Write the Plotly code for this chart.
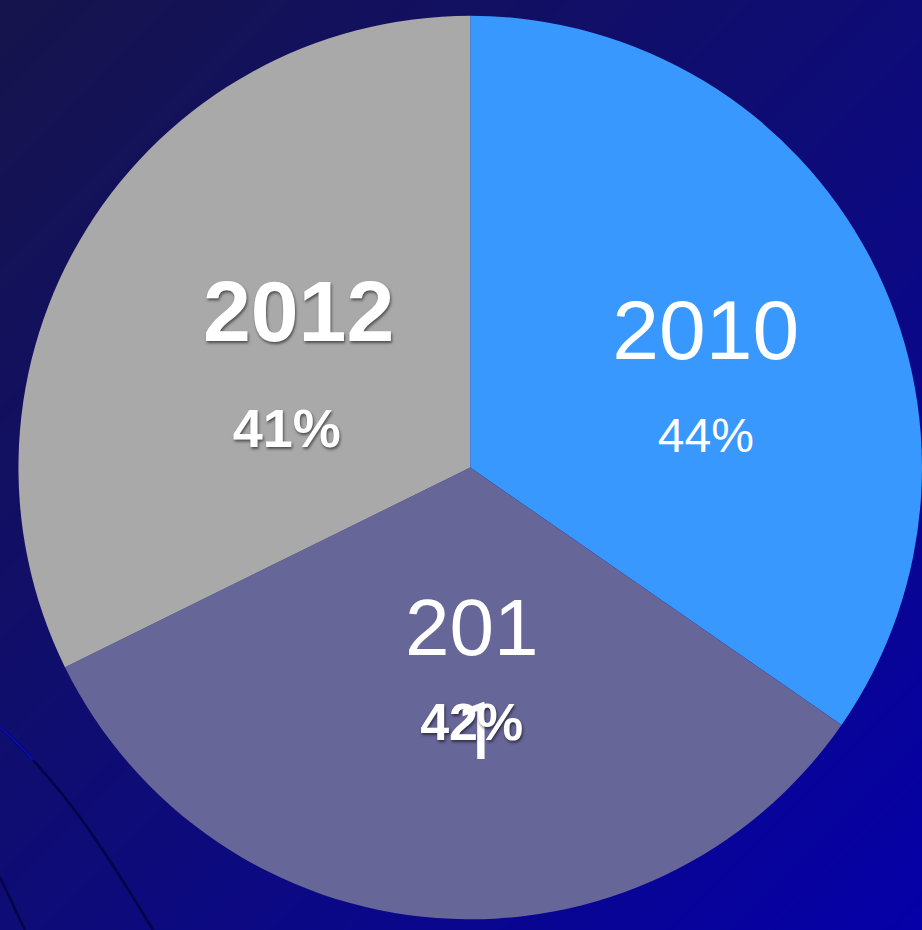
import numpy as np
import plotly.graph_objects as go

# ---- data ----
years = ["2010", "2011", "2012"]
shown_year = ["2010", "201", "2012"]
values = [44, 42, 41]
slice_colors = ["#3898FE", "#666699", "#A9A9A9"]

NB = "\u00a0"
SH = "text-shadow:1px 2px 3px rgba(0,0,0,0.55)"


def pad(size, n, shift=0):
    return f"<span style='font-size:{size}px;baseline-shift:{shift}px'>{NB * n}</span>"


# per-slice text templates (year on line 1, value on line 2)
tpl_2010 = (pad(84, 1, 32) + pad(84, 1) + "<span style='font-size:84px'>%{text}</span>"
            + "<br>" + pad(84, 2, 8) + "<span style='font-size:48px'>%{value}%</span>")
tpl_2011 = (pad(70, 2) + "<span style='font-size:80px'>%{text}</span>"
            + "<br>" + pad(70, 2, -81)
            + f"<span style='font-size:52px;font-weight:bold;{SH}'>4</span>"
            + f"<span style='font-size:52px;font-weight:bold;letter-spacing:-22px;{SH}'>2</span>"
            + "<span style='font-family:Roboto;font-weight:normal;font-size:80px;letter-spacing:-24px;baseline-shift:-19px'>1</span>"
            + f"<span style='font-size:52px;font-weight:bold;{SH}'>%</span>")
tpl_2012 = (pad(86, 1, 44) + pad(86, 2)
            + f"<span style='font-size:86px;font-weight:bold;{SH}'>%{{text}}</span>"
            + "<br>" + pad(86, 2, 8)
            + f"<span style='font-size:54px;font-weight:bold;{SH}'>%{{value}}%</span>")
templates = [tpl_2010, tpl_2011, tpl_2012]
base_sizes = [72, 65, 82]

# ---- background gradient ----
n = 60
gx = np.linspace(0, 1, n)
gy = np.linspace(0, 1, n)
GX, GY = np.meshgrid(gx, gy)
gz = GX * 0.5 + (1 - GY) * 0.5

fig = go.Figure()
fig.add_trace(go.Heatmap(
    x=gx, y=gy, z=gz, zsmooth="best", showscale=False, hoverinfo="skip",
    colorscale=[[0, "rgb(22,20,75)"], [0.5, "rgb(14,12,118)"], [1, "rgb(5,0,168)"]],
))

fig.add_trace(go.Pie(
    labels=years, values=values, text=shown_year,
    sort=False, direction="clockwise", rotation=0,
    marker=dict(colors=slice_colors, line=dict(width=0)),
    texttemplate=templates, textposition="inside",
    insidetextorientation="horizontal",
    insidetextfont=dict(family="Liberation Sans, Arial, sans-serif",
                        color="white", size=base_sizes),
    showlegend=False, hoverinfo="label+value",
    domain=dict(x=[0.02, 1.0], y=[0.0095, 0.985]),
))

# decorative curves at bottom-left
fig.add_shape(type="path", xref="paper", yref="paper",
              path="M 0,0.2183 Q 0.02,0.2 0.0358,0.1828 Q 0.07,0.145 0.0944,0.1108 Q 0.13,0.06 0.166,0.0",
              line=dict(color="rgb(4,4,70)", width=2.5))
fig.add_shape(type="path", xref="paper", yref="paper",
              path="M 0,0.2183 Q 0.02,0.2 0.0358,0.1828",
              line=dict(color="rgb(10,10,190)", width=2))
fig.add_shape(type="path", xref="paper", yref="paper",
              path="M 0,0.057 L 0.027,0.0",
              line=dict(color="rgb(4,4,70)", width=2.5))

fig.update_layout(
    width=922, height=930,
    margin=dict(l=0, r=0, t=0, b=0),
    paper_bgcolor="rgb(14,12,112)", plot_bgcolor="rgba(0,0,0,0)",
    xaxis=dict(visible=False, range=[0, 1], domain=[0, 1], fixedrange=True),
    yaxis=dict(visible=False, range=[0, 1], domain=[0, 1], fixedrange=True),
)

fig.write_html("out.html", config={"displayModeBar": False},
               post_script="document.body.style.margin='0';document.body.style.overflow='hidden';")
